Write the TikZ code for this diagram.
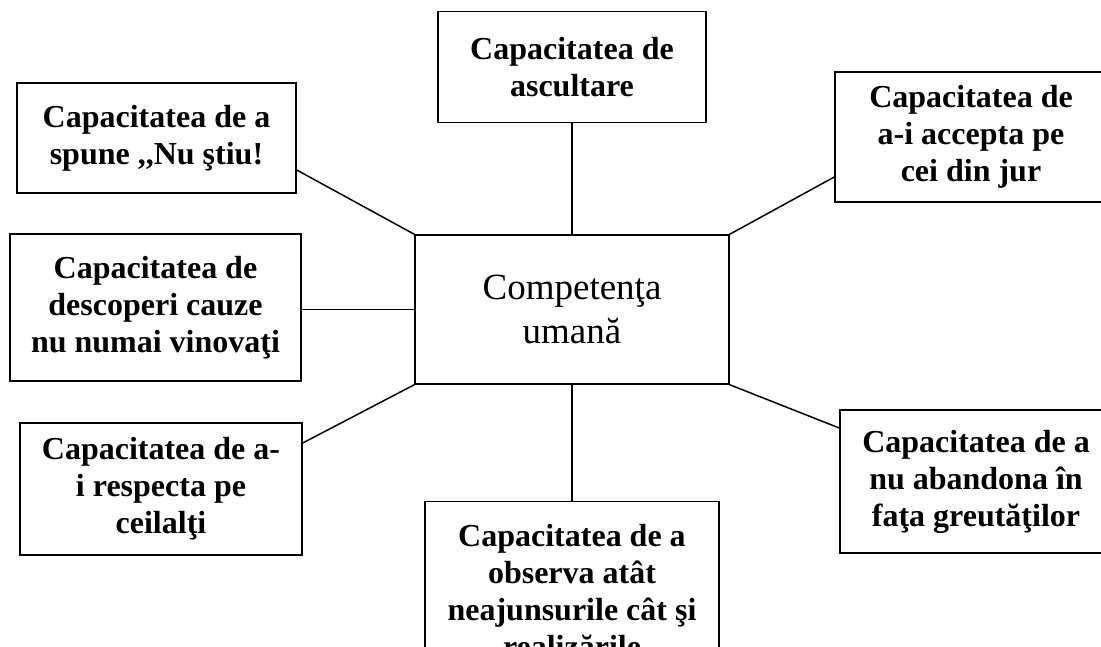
\documentclass[tikz,border=0pt]{standalone}
\usepackage{fontspec}
\setmainfont{Liberation Serif}
\usetikzlibrary{positioning}

\begin{document}
\begin{tikzpicture}
        [
            x=1pt, y=-1pt,
            box/.style 2 args={rectangle, draw, line width=1.5pt, align=center,
                          inner sep=0pt, minimum width=#1, minimum height=#2,
                          font=\fontsize{32}{37}\selectfont\bfseries},
            link/.style={line width=1.5pt}
        ]
        \useasboundingbox (0,0) rectangle (1101,646);
        \clip (0,0) rectangle (1101,646);
        \node (centre) [draw, line width=1.5pt, minimum width=314pt,
                        minimum height=149pt, align=center,
                        font=\fontsize{37}{44}\selectfont] at (572,309.5)
                       {Competenţa\\ umană};
        \node (ascultare) [box={268pt}{111pt}, above=111pt of centre]
                          {Capacitatea de\\ ascultare};
        \node (observa) [box={294pt}{180pt}, below=116pt of centre]
                        {Capacitatea de a\\ observa atât\\ neajunsurile cât şi\\ realizările};
        \node (spune) [box={279pt}{110pt}] at (156.5,138)
                      {Capacitatea de a\\ spune ,{},Nu ştiu!};
        \node (descoperi) [box={291pt}{147pt}] at (155.5,307.5)
                          {Capacitatea de\\ descoperi cauze\\ nu numai vinovaţi};
        \node (respecta) [box={282pt}{132pt}] at (161,489)
                         {Capacitatea de a-\\ i respecta pe\\ ceilalţi};
        \node (accepta) [box={272pt}{130pt}] at (971,137)
                        {Capacitatea de\\ a-i accepta pe\\ cei din jur};
        \node (abandona) [box={272pt}{143pt}] at (976,481.5)
                         {Capacitatea de a\\ nu abandona în\\ faţa greutăţilor};
        \foreach \i/\j in {ascultare.south/centre.north, centre.south/observa.north}
            \draw [link] (\i) -- (\j);
        \foreach \i/\j/\s in {spune/north west/-32pt, respecta/south west/46pt}
            \draw [link] ([yshift=\s]\i.east) -- (centre.\j);
        \foreach \i/\j/\s in {accepta/north east/-40pt, abandona/south east/53.5pt}
            \draw [link] ([yshift=\s]\i.west) -- (centre.\j);
        \draw [link] (centre.west) -- (centre.west -| descoperi.east);
    \end{tikzpicture}
\end{document}
